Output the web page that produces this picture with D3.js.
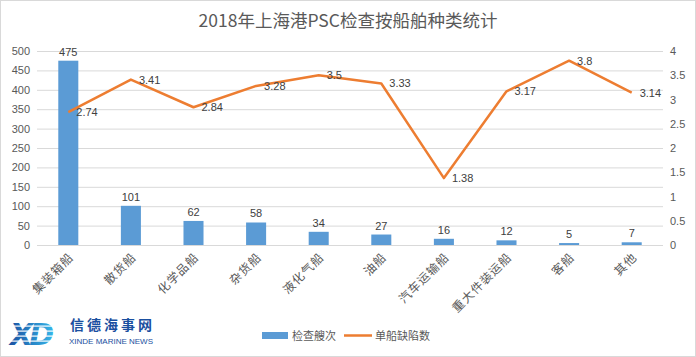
<!DOCTYPE html>
<html><head><meta charset="utf-8">
<script src="https://cdn.jsdelivr.net/npm/d3@7"></script>
<style>body{margin:0;background:#fff}svg{display:block}</style>
</head><body>
<script>
const categories = ["集装箱船","散货船","化学品船","杂货船","液化气船","油船","汽车运输船","重大件装运船","客船","其他"];
const inspections = [475,101,62,58,34,27,16,12,5,7];
const defects = [2.74,3.41,2.84,3.28,3.5,3.33,1.38,3.17,3.8,3.14];
const leftTicks = [0,50,100,150,200,250,300,350,400,450,500];
const rightTicks = [0,0.5,1,1.5,2,2.5,3,3.5,4];
const title = "2018年上海港PSC检查按船舶种类统计";
const seriesNames = ["检查艘次","单船缺陷数"];

const W=696,H=357;
const svg=d3.select("body").append("svg").attr("width",W).attr("height",H);
svg.append("rect").attr("x",0.5).attr("y",0.5).attr("width",W-1).attr("height",H-1).attr("fill","#fff").attr("stroke","#d9d9d9");
const fontCN='"Noto Sans CJK SC", sans-serif';
const fontNum='"Liberation Sans", "Open Sans", sans-serif';
const txt="#595959";

const x=d3.scaleBand().domain(categories).range([37,663]).paddingInner(0.68).paddingOuter(0.34);
const yL=d3.scaleLinear().domain([0,500]).range([245,51]);
const yR=d3.scaleLinear().domain([0,4]).range([245,51]);

// gridlines
svg.append("g").selectAll("line").data(leftTicks).join("line")
  .attr("x1",37).attr("x2",663).attr("y1",d=>yL(d)+0.5).attr("y2",d=>yL(d)+0.5)
  .attr("stroke","#d9d9d9").attr("stroke-width",1);

// axis labels
const axL=svg.append("g").attr("transform","translate(30,0)").call(d3.axisLeft(yL).tickValues(leftTicks).tickSize(0).tickPadding(0));
axL.select(".domain").remove();
axL.selectAll("text").attr("font-family",fontNum).attr("font-size",11).attr("fill",txt);
const axR=svg.append("g").attr("transform","translate(670,0)").call(d3.axisRight(yR).tickValues(rightTicks).tickSize(0).tickPadding(0).tickFormat(d3.format("")));
axR.select(".domain").remove();
axR.selectAll("text").attr("font-family",fontNum).attr("font-size",11).attr("fill",txt);

// bars
svg.append("g").selectAll("rect").data(inspections).join("rect")
  .attr("x",(d,i)=>x(categories[i])).attr("width",x.bandwidth())
  .attr("y",d=>yL(d)).attr("height",d=>yL(0)-yL(d)).attr("fill","#5b9bd5");
svg.append("g").selectAll("text").data(inspections).join("text")
  .attr("x",(d,i)=>x(categories[i])+x.bandwidth()/2).attr("y",d=>yL(d)-5)
  .attr("text-anchor","middle").attr("font-family",fontNum).attr("font-size",11).attr("fill","#404040").text(d=>d);

// line
const cx=i=>x(categories[i])+x.bandwidth()/2;
const line=d3.line().x((d,i)=>cx(i)).y(d=>yR(d));
svg.append("path").datum(defects).attr("d",line).attr("fill","none").attr("stroke","#ed7d31").attr("stroke-width",2.5).attr("stroke-linejoin","round");
svg.append("g").selectAll("text").data(defects).join("text")
  .attr("x",(d,i)=>cx(i)+8).attr("y",d=>yR(d)+4)
  .attr("font-family",fontNum).attr("font-size",11).attr("fill","#404040").text(d=>d);

// x labels
svg.append("g").selectAll("text").data(categories).join("text")
  .attr("transform",(d,i)=>`translate(${cx(i)+6},258) rotate(-45)`)
  .attr("text-anchor","end").attr("font-family",fontCN).attr("font-size",12).attr("letter-spacing",1).attr("fill",txt).text(d=>d);

// title
svg.append("text").attr("x",348).attr("y",27).attr("text-anchor","middle")
  .attr("font-family",fontCN).attr("font-size",17.5).attr("fill",txt).text(title);

// legend
svg.append("rect").attr("x",262).attr("y",332).attr("width",26).attr("height",7).attr("fill","#5b9bd5");
svg.append("text").attr("x",292).attr("y",340).attr("font-family",fontCN).attr("font-size",11).attr("fill",txt).text(seriesNames[0]);
svg.append("line").attr("x1",344).attr("x2",372).attr("y1",335.5).attr("y2",335.5).attr("stroke","#ed7d31").attr("stroke-width",2.5);
svg.append("text").attr("x",375).attr("y",340).attr("font-family",fontCN).attr("font-size",11).attr("fill",txt).text(seriesNames[1]);

// logo
const defs=svg.append("defs");
const g=defs.append("linearGradient").attr("id","lg").attr("x1",0).attr("x2",1).attr("y1",0).attr("y2",0);
g.append("stop").attr("offset","0%").attr("stop-color","#1a4fa0");
g.append("stop").attr("offset","100%").attr("stop-color","#35b4e8");
svg.append("text").attr("x",10).attr("y",345).attr("font-family",'"DejaVu Sans", sans-serif').attr("font-weight","bold").attr("font-style","italic")
  .attr("font-size",30).attr("fill","url(#lg)").attr("letter-spacing",-4).text("XD");
const stripes=[0,1,2,3,4];
svg.append("g").selectAll("rect").data(stripes).join("rect").attr("x",8).attr("width",58).attr("y",d=>322+d*5+3.5).attr("height",1.2).attr("fill","#fff");
svg.append("text").attr("x",70).attr("y",330).attr("font-family",fontCN).attr("font-weight","bold").attr("font-size",14).attr("fill","#1a4fa0").attr("letter-spacing",3).text("信德海事网");
svg.append("text").attr("x",69).attr("y",344).attr("font-family",fontNum).attr("font-size",8).attr("fill","#1a4fa0").text("XINDE MARINE NEWS");
</script>
</body></html>
